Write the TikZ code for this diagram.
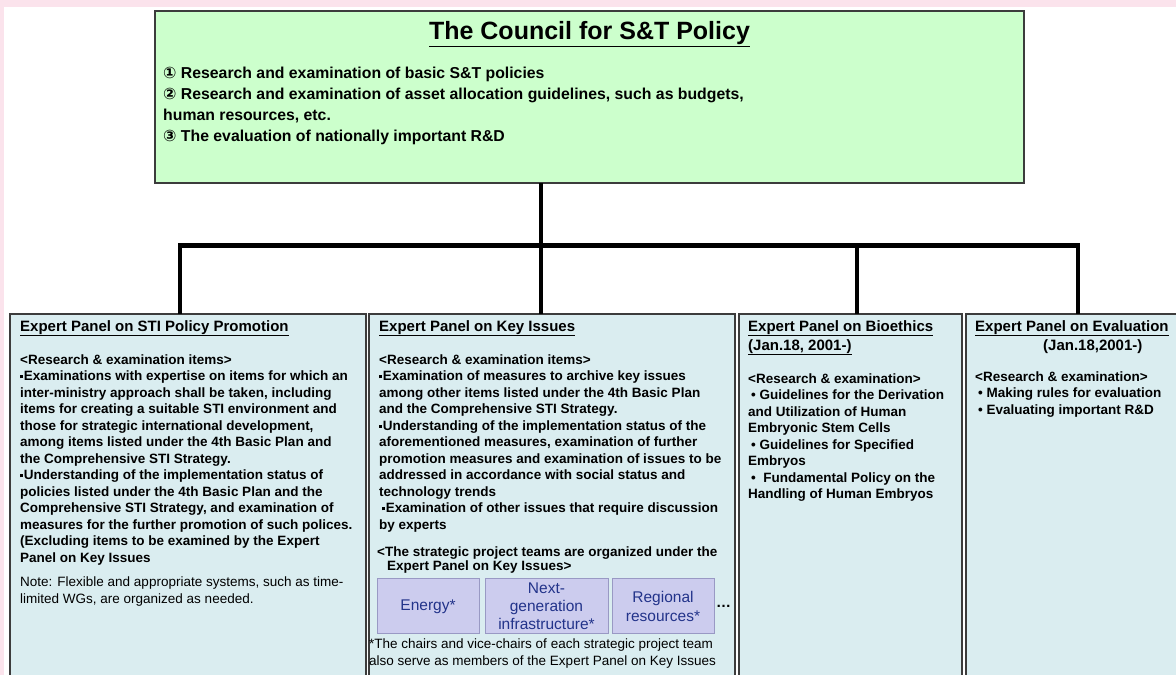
\documentclass[tikz,border=0pt]{standalone}
\usepackage{fontspec}
\setmainfont{Liberation Sans}
\newfontfamily\circledfont{DejaVu Sans}
\usetikzlibrary{positioning}

\definecolor{pinkEdge}{HTML}{FBE3EC}
\definecolor{councilGreen}{HTML}{CCFFCC}
\definecolor{panelBlue}{HTML}{DAEDF0}
\definecolor{frameGray}{HTML}{3C3C3C}
\definecolor{teamFill}{HTML}{CCCCEE}
\definecolor{teamFrame}{HTML}{9999C4}
\definecolor{teamText}{HTML}{22338A}

% small square bullet and circled numbers
\newcommand{\sqdot}{\raisebox{2.6pt}{\rule{2.8pt}{2.8pt}}\hspace{0.8pt}}
\newcommand{\circnum}[1]{{\circledfont #1}}

\tikzset{
  councilBox/.style={draw=frameGray, fill=councilGreen, line width=1.3pt, inner sep=0pt, outer sep=0pt},
  panelBox/.style={draw=frameGray, fill=panelBlue, line width=1.3pt, minimum height=377pt, inner sep=0pt, outer sep=0pt},
  panelText/.style={inner sep=0pt, align=left, font=\fontsize{13.5}{16.5}\selectfont\bfseries},
  panelTitle/.style={inner sep=0pt, align=left, font=\fontsize{15}{19}\selectfont\bfseries},
  teamBox/.style={draw=teamFrame, fill=teamFill, line width=0.8pt, minimum height=55pt, inner sep=0pt, outer sep=0pt, align=center, text=teamText, font=\fontsize{15.5}{18.3}\selectfont},
  busLine/.style={line width=3.5pt},
}

\begin{document}
\begin{tikzpicture}[x=1pt, y=-1pt]
        \useasboundingbox (0,0) rectangle (1176,675);
        \clip (0,0) rectangle (1176,675);

        % Page background with the pink edge
        \fill[pinkEdge] (0,0) rectangle (1176,675);
        \fill[white] (4,7) rectangle (1176,675);

        %%% Council box
            \node[councilBox, minimum width=869pt, minimum height=172pt, anchor=north west] (council) at (155,11) {};

            % Title and tasks
            \node[below=10pt of council.north, inner sep=0pt, font=\fontsize{25}{29}\selectfont\bfseries] (councilTitle) {\underline{The Council for S\&T Policy}};
            \node[below=56pt of council.north west, anchor=north west, xshift=8pt, inner sep=0pt, align=left, font=\fontsize{15.8}{21}\selectfont\bfseries] (councilTasks) {%
                \circnum{①} Research and examination of basic S\&T policies\\
                \circnum{②} Research and examination of asset allocation guidelines, such as budgets,\\
                human resources, etc.\\
                \circnum{③} The evaluation of nationally important R\&D};

        %%% Expert panels
            \node[panelBox, minimum width=356pt, anchor=north west] (stiPanel) at (10,314) {};
            \node[panelBox, minimum width=366pt, right=3pt of stiPanel] (keyPanel) {};
            \node[panelBox, minimum width=223pt, right=4pt of keyPanel] (bioPanel) {};
            \node[panelBox, minimum width=230pt, right=4pt of bioPanel] (evalPanel) {};

        %%% Connectors
            \coordinate (hub) at (541,245);
            \coordinate (busWest) at (180,245);
            \coordinate (bioDrop) at (857,245);
            \coordinate (busEast) at (1078,245);

            \draw[busLine] (council.south -| hub) -- (hub); % Trunk
            \draw[line width=5pt] ([xshift=-1.75pt]busWest) -- ([xshift=1.75pt]busEast); % Bus
            \draw[busLine] (busWest) -- (busWest |- stiPanel.north);
            \draw[busLine] (hub) -- (hub |- keyPanel.north);
            \draw[busLine] (bioDrop) -- (bioDrop |- bioPanel.north);
            \draw[busLine] (busEast) -- (busEast |- evalPanel.north);

        %%% STI policy panel text
            \node[panelTitle, below right=6pt and 10pt of stiPanel.north west] (stiTitle) {\underline{Expert Panel on STI Policy Promotion}};
            \node[panelText, below right=18pt and 0pt of stiTitle.south west] (stiText) {%
                <Research \& examination items>\\
                \sqdot Examinations with expertise on items for which an\\
                inter-ministry approach shall be taken, including\\
                items for creating a suitable STI environment and\\
                those for strategic international development,\\
                among items listed under the 4th Basic Plan and\\
                the Comprehensive STI Strategy.\\
                \sqdot Understanding of the implementation status of\\
                policies listed under the 4th Basic Plan and the\\
                Comprehensive STI Strategy, and examination of\\
                measures for the further promotion of such polices.\\
                (Excluding items to be examined by the Expert\\
                Panel on Key Issues\\[8pt]
                {\mdseries Note: Flexible and appropriate systems, such as time-}\\
                {\mdseries limited WGs, are organized as needed.}};

        %%% Key issues panel text
            \node[panelTitle, below right=6pt and 10pt of keyPanel.north west] (keyTitle) {\underline{Expert Panel on Key Issues}};
            \node[panelText, below right=18pt and 0pt of keyTitle.south west] (keyText) {%
                <Research \& examination items>\\
                \sqdot Examination of measures to archive key issues\\
                among other items listed under the 4th Basic Plan\\
                and the Comprehensive STI Strategy.\\
                \sqdot Understanding of the implementation status of the\\
                aforementioned measures, examination of further\\
                promotion measures and examination of issues to be\\
                addressed in accordance with social status and\\
                technology trends\\
                \hspace*{3pt}\sqdot Examination of other issues that require discussion\\
                by experts};
            \node[panelText, below right=14pt and -2pt of keyText.south west] (teamNote) {%
                <The strategic project teams are organized under the\\[-2pt]
                \hspace*{10pt}Expert Panel on Key Issues>};

            % Strategic project teams
            \node[teamBox, minimum width=102pt, below right=5pt and 0pt of teamNote.south west] (energyTeam) {Energy*};
            \node[teamBox, minimum width=123pt, right=6pt of energyTeam] (infraTeam) {Next-\\generation\\infrastructure*};
            \node[teamBox, minimum width=102pt, right=4pt of infraTeam] (regionTeam) {Regional\\resources*};
            \node[right=2pt of regionTeam, inner sep=0pt, font=\fontsize{15}{16}\selectfont\bfseries] (moreTeams) {\dots};

            \node[panelText, font=\fontsize{13.5}{17}\selectfont, below right=5pt and 0pt of keyPanel.west |- energyTeam.south] (teamFootnote) {%
                *The chairs and vice-chairs of each strategic project team\\
                also serve as members of the Expert Panel on Key Issues};

        %%% Bioethics panel text
            \node[panelTitle, below right=6pt and 9pt of bioPanel.north west] (bioTitle) {%
                \underline{Expert Panel on Bioethics}\\
                \underline{(Jan.18, 2001-)}};
            \node[panelText, below right=18pt and 0pt of bioTitle.south west] (bioText) {%
                <Research \& examination>\\
                \hspace*{3pt}• Guidelines for the Derivation\\
                and Utilization of Human\\
                Embryonic Stem Cells\\
                \hspace*{3pt}• Guidelines for Specified\\
                Embryos\\
                \hspace*{3pt}•\ \ Fundamental Policy on the\\
                Handling of Human Embryos};

        %%% Evaluation panel text
            \node[panelTitle, below right=6pt and 9pt of evalPanel.north west] (evalTitle) {%
                \underline{Expert Panel on Evaluation}\\
                \hspace*{68pt}(Jan.18,2001-)};
            \node[panelText, below right=18pt and 0pt of evalTitle.south west] (evalText) {%
                <Research \& examination>\\
                \hspace*{3pt}• Making rules for evaluation\\
                \hspace*{3pt}• Evaluating important R\&D};
\end{tikzpicture}
\end{document}
